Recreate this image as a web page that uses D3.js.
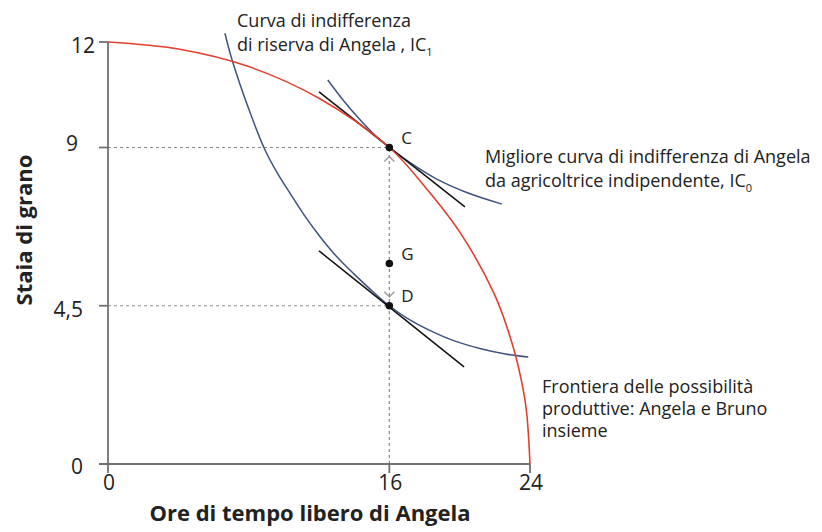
<!DOCTYPE html>
<html>
<head>
  <meta charset="utf-8" />
  <title>Frontiera e curve di indifferenza</title>
  <style type="text/css">
    body { margin: 0; background: #fff; }
    svg text { font-family: 'Open Sans', sans-serif; fill: #222; }
    .axis-title { font-weight: bold; font-size: 22px; }
    .tick-lbl { font-size: 21px; }
    .note { font-size: 18px; }
    .pt-lbl { font-size: 17px; }
  </style>
</head>
<body>
<div id="chart"></div>
<script src="https://cdnjs.cloudflare.com/ajax/libs/d3/7.8.5/d3.min.js"></script>
<script>
// ticks
var xTicks = [0, 16, 24];
var yTicks = [0, 4.5, 9, 12];
var yTickLabels = ["0", "4,5", "9", "12"];

// curves: [ore di tempo libero, staia di grano]
var frontier = [[0, 12], [4, 11.8], [8, 11.3], [12, 10.4], [16, 9], [18, 7.9], [20, 6.6], [22, 4.8], [23, 3.4], [23.5, 2.4], [23.8, 1.5], [24, 0]];
var ic1 = [[6.65, 12.25], [7.05, 11.5], [8.0, 10.1], [8.93, 8.93], [9.6, 8.3], [10.35, 7.7], [11.1, 7.12], [12.05, 6.47], [13.0, 5.9], [14.0, 5.4], [15.0, 4.93], [16, 4.5], [17, 4.15], [18.3, 3.8], [19.7, 3.5], [21.2, 3.28], [22.6, 3.13], [23.9, 3.04]];
var ic0 = [[12.5, 10.92], [13.4, 10.33], [14.35, 9.78], [15.2, 9.34], [16, 9], [17.2, 8.56], [18.7, 8.1], [20.4, 7.72], [22.4, 7.39]];
var tangentC = [[12.0, 10.58], [20.3, 7.31]];
var tangentD = [[12.0, 6.06], [20.25, 2.76]];

// points C, G, D
var points = [{name: "C", x: 16, y: 9}, {name: "G", x: 16, y: 5.7}, {name: "D", x: 16, y: 4.5}];

var width = 822, height = 532;
var x = d3.scaleLinear().domain([0, 24]).range([108, 530]);
var y = d3.scaleLinear().domain([0, 12]).range([464, 42]);

// y tick label placement (right edge, baseline shift), same order as yTicks
var yLblPos = [[83, 10], [83, 11], [78, 3], [95, 11]];

var svg = d3.select('#chart').append('svg').attr('width', width).attr('height', height);

var axisCol = '#707070';

// dotted guides
function guide(x1, y1, x2, y2) {
  svg.append('line').attr('x1', x1).attr('y1', y1).attr('x2', x2).attr('y2', y2)
    .attr('stroke', '#8a8a8a').attr('stroke-width', 1.2).attr('stroke-dasharray', '3,3');
}
guide(x(0), y(9), x(16), y(9));
guide(x(0), y(4.5), x(16), y(4.5));
guide(x(16), y(0), x(16), y(9));

// arrow heads on the vertical guide
function chevron(cx, cy, dir) {
  svg.append('path')
    .attr('d', 'M' + (cx - 5) + ',' + (cy + dir * 5) + ' L' + cx + ',' + cy + ' L' + (cx + 5) + ',' + (cy + dir * 5))
    .attr('fill', 'none').attr('stroke', '#999').attr('stroke-width', 1.3);
}
chevron(x(16), y(9) + 9, 1);
chevron(x(16), y(4.5) - 9, -1);

// axes
svg.append('line').attr('x1', x(0)).attr('y1', y(0)).attr('x2', x(0)).attr('y2', y(12))
  .attr('stroke', axisCol).attr('stroke-width', 1.8);
svg.append('line').attr('x1', x(0) - 9).attr('y1', y(0)).attr('x2', x(24)).attr('y2', y(0))
  .attr('stroke', axisCol).attr('stroke-width', 1.8);

svg.selectAll('.ytick').data(yTicks).enter().append('line')
  .attr('x1', x(0) - 9).attr('x2', x(0))
  .attr('y1', function (d) { return y(d); }).attr('y2', function (d) { return y(d); })
  .attr('stroke', axisCol).attr('stroke-width', 1.8);
svg.selectAll('.xtick').data(xTicks).enter().append('line')
  .attr('y1', y(0)).attr('y2', y(0) + 9)
  .attr('x1', function (d) { return x(d); }).attr('x2', function (d) { return x(d); })
  .attr('stroke', axisCol).attr('stroke-width', 1.8);

svg.selectAll('.ylbl').data(yTicks).enter().append('text')
  .attr('class', 'tick-lbl').attr('text-anchor', 'end')
  .attr('x', function (d, i) { return yLblPos[i][0]; })
  .attr('y', function (d, i) { return y(d) + yLblPos[i][1]; })
  .text(function (d, i) { return yTickLabels[i]; });
svg.selectAll('.xlbl').data(xTicks).enter().append('text')
  .attr('class', 'tick-lbl').attr('text-anchor', 'middle')
  .attr('x', function (d) { return x(d) + 1; }).attr('y', y(0) + 26)
  .text(function (d) { return d; });

svg.append('text').attr('class', 'axis-title').attr('text-anchor', 'middle')
  .attr('x', 310).attr('y', 521).text('Ore di tempo libero di Angela');
svg.append('text').attr('class', 'axis-title').attr('text-anchor', 'middle')
  .attr('transform', 'translate(32,230) rotate(-90)').text('Staia di grano');

// curves
var line = d3.line().x(function (d) { return x(d[0]); }).y(function (d) { return y(d[1]); });
var smooth = d3.line().curve(d3.curveCatmullRom.alpha(0.5))
  .x(function (d) { return x(d[0]); }).y(function (d) { return y(d[1]); });

svg.append('path').attr('d', smooth(ic1)).attr('fill', 'none').attr('stroke', '#3f5285').attr('stroke-width', 1.5);
svg.append('path').attr('d', smooth(ic0)).attr('fill', 'none').attr('stroke', '#3f5285').attr('stroke-width', 1.5);
svg.append('path').attr('d', line(tangentC)).attr('fill', 'none').attr('stroke', '#111').attr('stroke-width', 1.5);
svg.append('path').attr('d', line(tangentD)).attr('fill', 'none').attr('stroke', '#111').attr('stroke-width', 1.5);
svg.append('path').attr('d', smooth(frontier)).attr('fill', 'none').attr('stroke', '#e2402f').attr('stroke-width', 1.6);

// points
svg.selectAll('.pt').data(points).enter().append('circle')
  .attr('cx', function (d) { return x(d.x); }).attr('cy', function (d) { return y(d.y); })
  .attr('r', 3.8).attr('fill', '#111');
svg.selectAll('.ptl').data(points).enter().append('text')
  .attr('class', 'pt-lbl')
  .attr('x', function (d) { return x(d.x) + 12; })
  .attr('y', function (d) { return y(d.y) - 4; })
  .text(function (d) { return d.name; });

// annotations
function note(x0, y0, gap, lines) {
  var t = svg.append('text').attr('class', 'note').attr('x', x0).attr('y', y0);
  lines.forEach(function (l, i) {
    var ts = t.append('tspan').attr('x', x0).attr('dy', i === 0 ? 0 : gap);
    ts.text(l[0]);
    if (l[1]) {
      ts.append('tspan').attr('font-size', '11px').attr('dy', 5).text(l[1]);
    }
  });
}
note(237, 27, 24, [['Curva di indifferenza'], ['di riserva di Angela , IC', '1']]);
note(485, 163, 24, [['Migliore curva di indifferenza di Angela'], ['da agricoltrice indipendente,  IC', '0']]);
note(542, 393, 22, [['Frontiera delle possibilità'], ['produttive: Angela e Bruno'], ['insieme']]);
</script>
</body>
</html>
